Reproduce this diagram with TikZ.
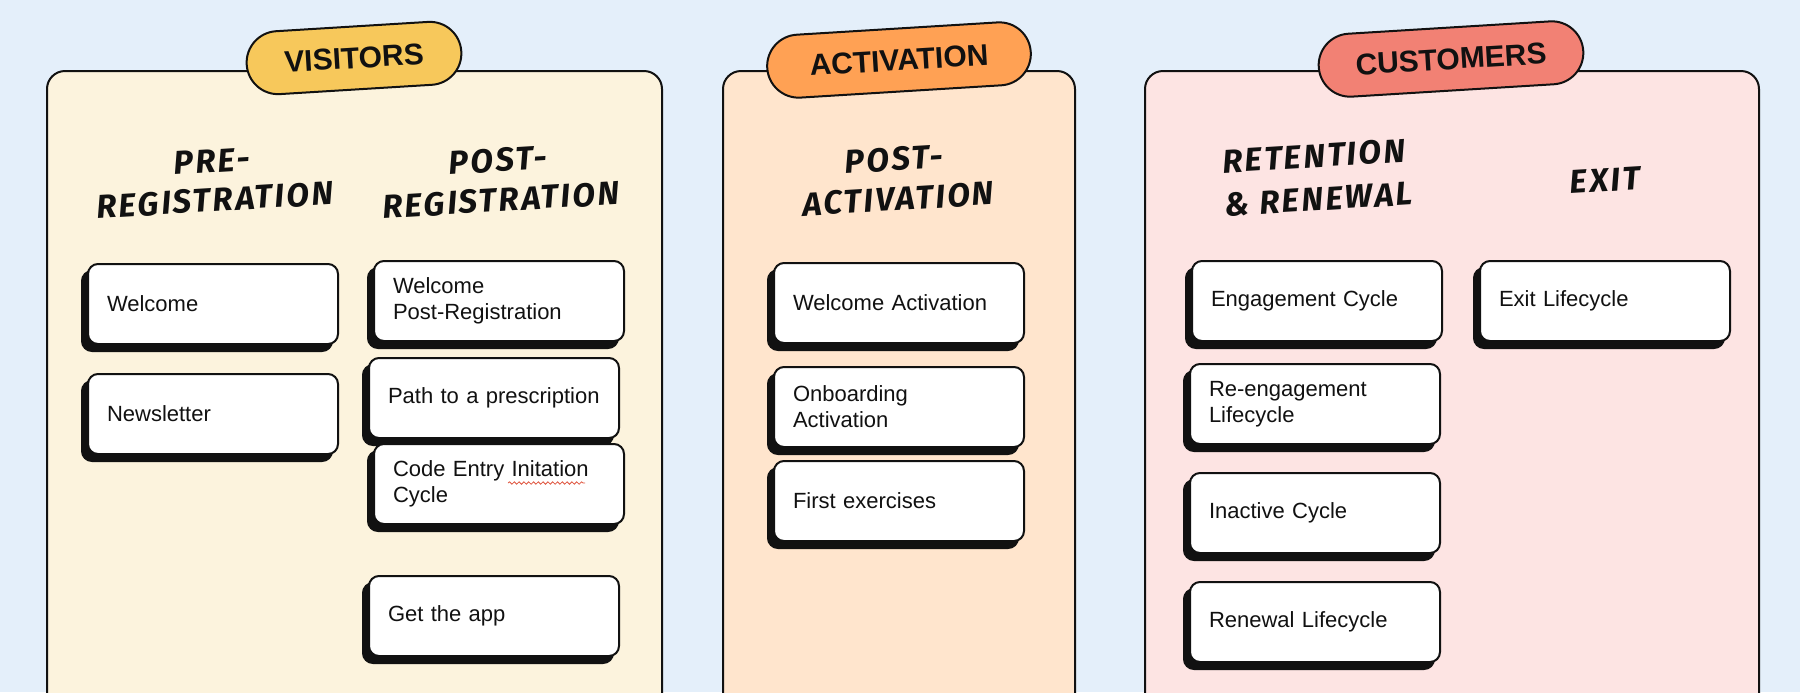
\documentclass[tikz,border=0pt]{standalone}
\usepackage{fontspec}
\setmainfont{Liberation Sans}
\newfontfamily\handfont{Fira Sans}[LetterSpace=7]
\usetikzlibrary{shadows,decorations.pathmorphing}
\definecolor{bg}{HTML}{E4EFFA}
\definecolor{visfill}{HTML}{FCF3DD}
\definecolor{actfill}{HTML}{FFE5CD}
\definecolor{cusfill}{HTML}{FDE4E3}
\definecolor{vispill}{HTML}{F7C85B}
\definecolor{actpill}{HTML}{FFA154}
\definecolor{cuspill}{HTML}{F28174}
\definecolor{ink}{HTML}{111111}
\definecolor{squig}{HTML}{E0553F}
\tikzset{
  panel/.style={draw=ink, line width=1pt, rounded corners=9pt},
  pill/.style={draw=ink, line width=1pt, rounded corners=15.7pt, minimum height=31.5pt,
    rotate=3.5, inner sep=0pt, text=ink, font=\fontsize{15}{16}\selectfont\bfseries},
  hand/.style={rotate=3.5, text=ink, inner sep=0pt,
    font=\handfont\bfseries\itshape\fontsize{16.5}{18.5}\selectfont},
  card/.style={draw=ink, line width=1pt, fill=white, rounded corners=5pt,
    general shadow={fill=ink, draw=ink, shadow xshift=-3pt, shadow yshift=-3.5pt},
    anchor=north west, minimum height=40pt, text width=106pt, inner xsep=9.5pt,
    align=left, text=ink, font=\fontsize{11}{13}\selectfont}
}
\begin{document}
\begin{tikzpicture}[x=0.5pt,y=-0.5pt]
\useasboundingbox (0,0) rectangle (1800,692);
\fill[bg] (0,0) rectangle (1800,692);
\begin{scope}
\clip (0,0) rectangle (1800,692);
\draw[panel, fill=visfill] (47,71) rectangle (662,730);
\draw[panel, fill=actfill] (723,71) rectangle (1075,730);
\draw[panel, fill=cusfill] (1145,71) rectangle (1759,730);
\end{scope}

% category pills
\node[pill, fill=vispill, minimum width=107.5pt] (pvis) at (354,58) {VISITORS};
\node[pill, fill=actpill, minimum width=132pt] (pact) at (899,60) {ACTIVATION};
\node[pill, fill=cuspill, minimum width=132.5pt] (pcus) at (1451,59) {CUSTOMERS};

% handwritten headers
\node[hand] (hpre1) at (212,161) {PRE-};
\node[hand] (hpre2) at (215,200) {REGISTRATION};
\node[hand] (hpost1) at (498,160) {POST-};
\node[hand] (hpost2) at (501,200) {REGISTRATION};
\node[hand] (hpact1) at (894,159) {POST-};
\node[hand] (hpact2) at (898,199) {ACTIVATION};
\node[hand] (hret1) at (1314,156) {RETENTION};
\node[hand] (hret2) at (1319,199) {\& RENEWAL};
\node[hand] (hexit) at (1605,180) {EXIT};

% visitors
\node[card] (b1) at (87,263) {Welcome};
\node[card] (b2) at (87,373) {Newsletter};
\node[card] (c1) at (373,260) {Welcome\\Post-Registration};
\node[card] (c2) at (368,357) {Path to a prescription};
\node[card] (c3) at (373,443) {Code Entry Initation\\Cycle};
\node[card] (c4) at (368,575) {Get the app};

% activation
\node[card] (a1) at (773,262) {Welcome Activation};
\node[card] (a2) at (773,366) {Onboarding\\Activation};
\node[card] (a3) at (773,460) {First exercises};

% customers
\node[card] (r1) at (1191,260) {Engagement Cycle};
\node[card] (r2) at (1189,363) {Re-engagement\\Lifecycle};
\node[card] (r3) at (1189,472) {Inactive Cycle};
\node[card] (r4) at (1189,581) {Renewal Lifecycle};
\node[card] (e1) at (1479,260) {Exit Lifecycle};

% spell-check squiggle
\draw[squig, line width=0.4pt, decorate, decoration={snake, segment length=2.4pt, amplitude=0.6pt}] (508,483) -- (585,483);
\end{tikzpicture}
\end{document}
